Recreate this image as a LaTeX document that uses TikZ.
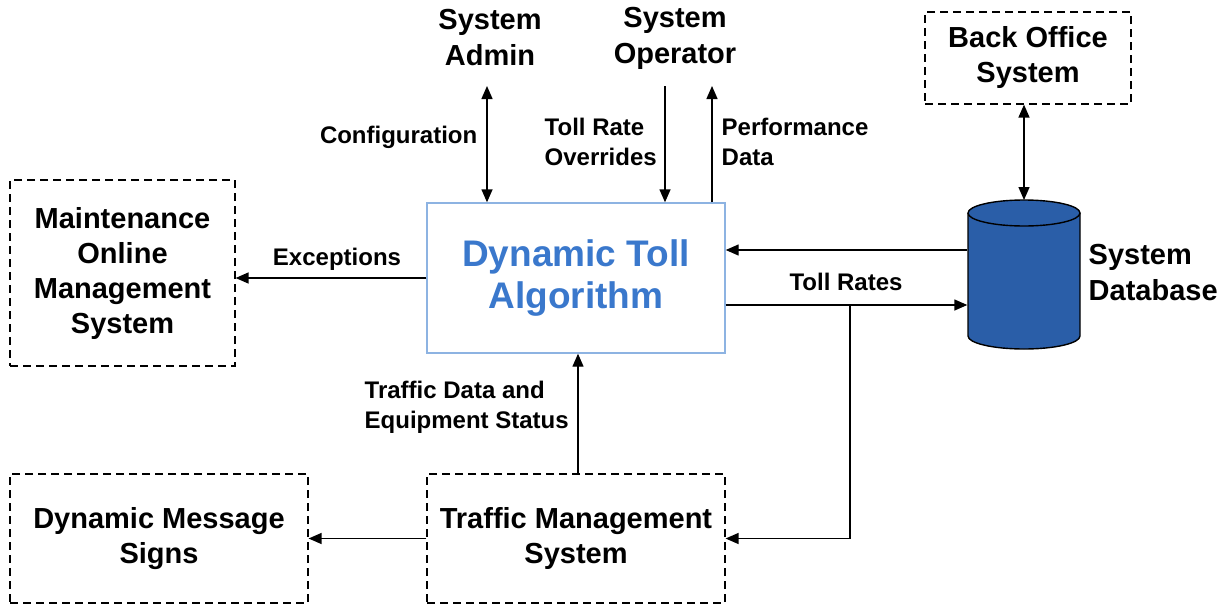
\documentclass[tikz,border=0pt]{standalone}
\usepackage{fontspec}
\setmainfont{Liberation Sans}
\usetikzlibrary{arrows.meta,calc}
\definecolor{dtaborder}{RGB}{141,179,226}
\definecolor{dtatext}{RGB}{58,120,204}
\definecolor{dbfill}{RGB}{42,94,168}
\begin{document}
\begin{tikzpicture}[x=1pt,y=-1pt,
  line width=1.4pt,
  tip/.tip={Triangle[length=13pt,width=11pt]},
  arr/.style={-tip},
  tw/.style={tip-tip},
  dbox/.style={draw,dash pattern=on 8pt off 5pt,line width=1.2pt,align=center,inner sep=0pt,
    font=\bfseries\fontsize{29}{35}\selectfont},
  lbl/.style={font=\bfseries\fontsize{24}{30}\selectfont,inner sep=0pt},
  big/.style={font=\bfseries\fontsize{29}{36}\selectfont,inner sep=0pt,align=center}]
\useasboundingbox (0,0) rectangle (1226,605);

% boxes
\node[dbox,minimum width=225pt,minimum height=186pt] (mom) at (122.5,273) {Maintenance\\Online\\Management\\System};
\node[draw=dtaborder,line width=1.4pt,minimum width=298pt,minimum height=150pt,align=center,
  text=dtatext,font=\bfseries\fontsize{37}{42}\selectfont] (dta) at (576,278) {Dynamic Toll\\Algorithm};
\node[dbox,minimum width=206pt,minimum height=92pt] (bo) at (1028,58) {Back Office\\System};
\node[dbox,minimum width=298pt,minimum height=129pt] (dms) at (159,538.5) {Dynamic Message\\Signs};
\node[dbox,minimum width=298pt,minimum height=129pt] (tms) at (576,538.5) {Traffic Management\\System};

% actors
\node[big] (sa) at (490,38) {System\\Admin};
\node[big] (so) at (675,38) {System\\Operator};

% database cylinder
\node[minimum width=112pt,minimum height=136pt,inner sep=0pt] (db) at (1024,281) {};
\fill[dbfill] (968,213) -- (968,336) arc[start angle=180,end angle=0,x radius=56,y radius=13]
  -- (1080,213) arc[start angle=360,end angle=180,x radius=56,y radius=13] -- cycle;
\draw (968,213) -- (968,336) arc[start angle=180,end angle=0,x radius=56,y radius=13]
  -- (1080,213);
\draw (1024,213) ellipse[x radius=56,y radius=13];
\coordinate (dbtop) at (1024,200);
\node[big,anchor=west,align=left] (dblbl) at (1088,273) {System\\Database};

% coordinates for free ends
\coordinate (cfg) at (487,86);
\coordinate (tro) at (665,86);
\coordinate (pd) at (712,86);
\coordinate (br) at (850,305);

% connectors
\draw[tw] (dta.north -| cfg) -- (cfg);
\draw[arr] (tro) -- (dta.north -| tro);
\draw[arr] (dta.north -| pd) -- (pd);
\draw[tw] (bo.south -| dbtop) -- (dbtop);
\draw[arr] (dta.west |- 0,278) -- (mom.east |- 0,278);
\draw[arr] (db.west |- 0,250) -- (dta.east |- 0,250);
\draw[arr] (dta.east |- br) -- (db.west |- br);
\draw[arr] (br) -- (br |- tms.east) -- (tms.east);
\draw[arr] (tms.north -| 578,0) -- (dta.south -| 578,0);
\draw[arr] (tms.west) -- (dms.east);

% labels
\node[lbl,anchor=east] at (478,137) {Configuration};
\node[lbl,anchor=west,align=left] at (544,142) {Toll Rate\\Overrides};
\node[lbl,anchor=west,align=left] at (721,142) {Performance\\Data};
\node[lbl] at (337,259) {Exceptions};
\node[lbl] at (846,282) {Toll Rates};
\node[lbl,anchor=west,align=left] at (364,407) {Traffic Data and\\Equipment Status};
\end{tikzpicture}
\end{document}
